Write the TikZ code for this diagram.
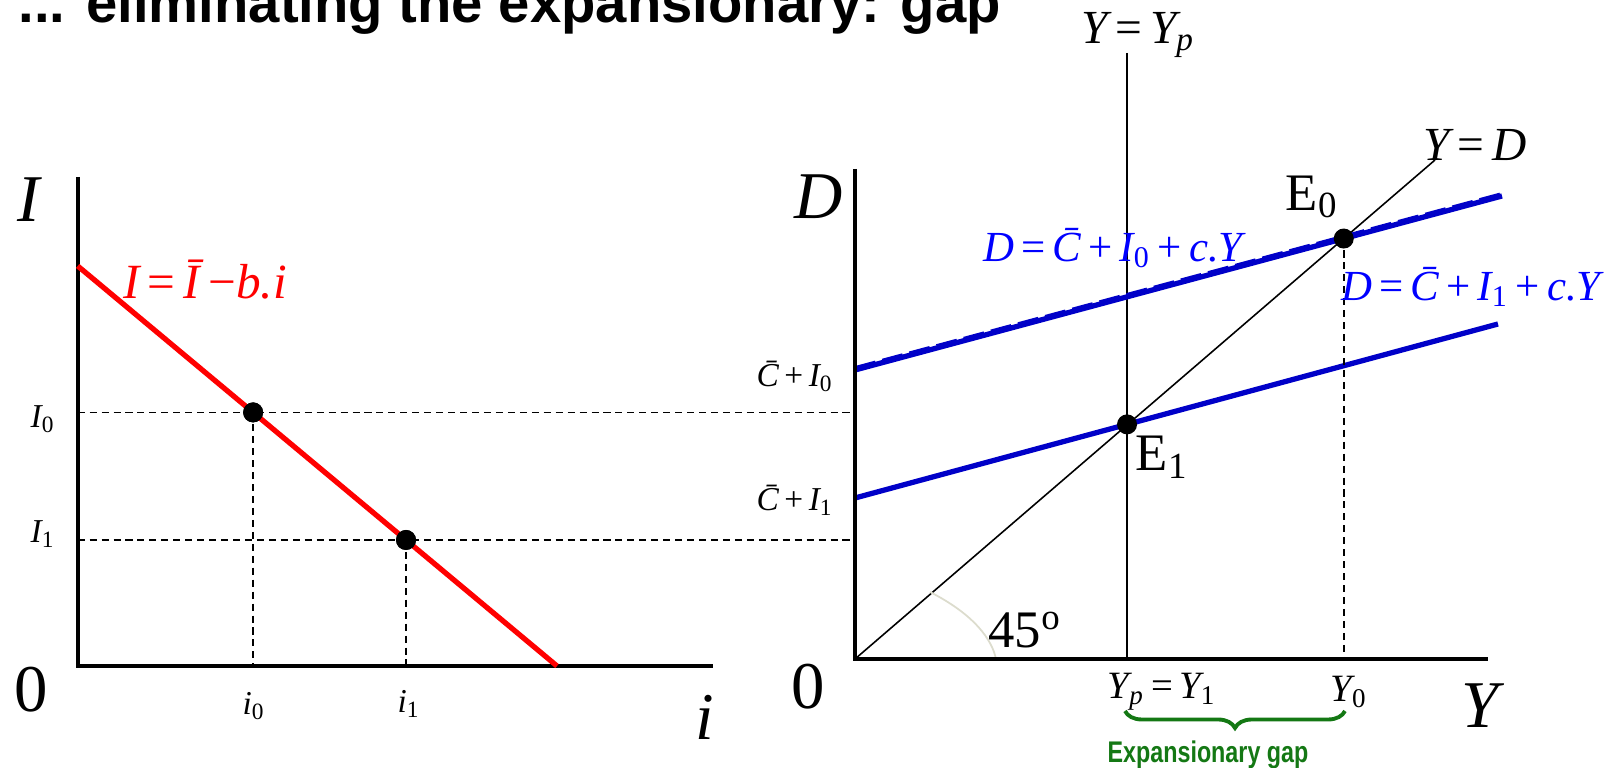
\documentclass[tikz,border=0pt]{standalone}
\usepackage{fontspec}
\setmainfont{Liberation Serif}
\newfontfamily\titlefont{Liberation Sans}
\newfontfamily\gapfont[FakeStretch=0.78]{Liberation Sans}
\usetikzlibrary{calc,decorations.pathreplacing}
\definecolor{lineblue}{RGB}{0,0,200}
\definecolor{textblue}{RGB}{0,0,255}
\definecolor{gapgreen}{RGB}{20,120,20}
\definecolor{arcgray}{RGB}{220,220,205}

\begin{document}
\begin{tikzpicture}[
    axis/.style={line width=1.15pt},
    guide/.style={dash pattern=on 2pt off 1.4pt, line width=0.45pt},
    dot/.style={circle, fill=black, inner sep=0pt, minimum size=0.2cm},
    biglbl/.style={font=\fontsize{19}{19}\selectfont},
    smalllbl/.style={font=\fontsize{9.5}{9.5}\selectfont},
    eqlbl/.style={font=\fontsize{12.2}{12.2}\selectfont},
  ]
  \useasboundingbox (0,0) rectangle (16.04,7.68);
  \clip (0,0) rectangle (16.04,7.68);

  % title, cut at the top
  \node[anchor=base west, inner sep=0pt, font=\titlefont\bfseries\fontsize{16}{16}\selectfont] (title) at (0.18,7.45) {... eliminating the expansionary: gap};

  % ---- investment panel ----
  \coordinate (O1) at (0.777,1.02);
  \coordinate (Itop) at (0.777,5.91);
  \coordinate (iend) at (7.13,1.02);
  \coordinate (redA) at (0.777,5.02);
  \coordinate (redB) at (5.57,1.02);
  \coordinate (O2) at (8.55,1.09);

  \draw[axis] (Itop) -- (O1) -- (iend);
  \draw[red, line width=1.5pt] (redA) -- (redB);

  \node[dot] (pI0) at ($(redA)!0.366!(redB)$) {};
  \node[dot] (pI1) at ($(redA)!0.685!(redB)$) {};
  \draw[guide] (pI0.center -| O1) -- (pI0.center -| O2);
  \draw[guide] (pI1.center -| O1) -- (pI1.center -| O2);
  \draw[guide] (pI0.center) -- (pI0.center |- O1);
  \draw[guide] (pI1.center) -- (pI1.center |- O1);
  \node[dot] at (pI0) {};
  \node[dot] at (pI1) {};

  \node[biglbl] (lblI) at (0.29,5.68) {\itshape I};
  \node[biglbl] (zero1) at (0.31,0.78) {0};
  \node[biglbl] (lbli) at (7.05,0.51) {\itshape i};
  \node[smalllbl] (lblI0) at (0.43,3.49) {\itshape I\textsubscript{\upshape 0}};
  \node[smalllbl] (lblI1) at (0.43,2.34) {\itshape I\textsubscript{\upshape 1}};
  \node[smalllbl] (lbli0) at (2.54,0.62) {\itshape i\textsubscript{\upshape 0}};
  \node[smalllbl] (lbli1) at (4.09,0.64) {\itshape i\textsubscript{\upshape 1}};
  \node[font=\fontsize{14}{14}\selectfont, text=red] (eqI) at (2.05,4.88) {\itshape I\,\upshape=\,\itshape Ī\,\upshape−\itshape b.i};

  % ---- demand panel ----
  \coordinate (Dtop) at (8.55,5.99);
  \coordinate (Yend) at (14.88,1.09);
  \coordinate (diag) at (14.35,6.08);
  \coordinate (upA) at (8.55,3.98);
  \coordinate (upB) at (15.02,5.72);
  \coordinate (loA) at (8.55,2.70);
  \coordinate (loB) at (14.98,4.44);
  \coordinate (YpTop) at (11.27,7.15);
  \coordinate (YpBot) at (11.27,1.09);

  \draw[line width=0.6pt] (YpTop) -- (YpBot);
  \draw[line width=0.45pt] (O2) -- (diag);
  \draw[arcgray, line width=0.5pt] (9.30,1.76) .. controls (9.75,1.53) and (9.92,1.28) .. (9.96,1.09);
  \draw[lineblue, line width=1.5pt] (upA) -- (upB);
  \draw[lineblue, dash pattern=on 6pt off 2pt, line width=0.8pt] ($(upA)+(0,0.025)$) -- ($(upB)+(0,0.025)$);
  \draw[lineblue, line width=1.5pt] (loA) -- (loB);
  \draw[axis] (Dtop) -- (O2) -- (Yend);

  \coordinate (cE0) at (intersection of O2--diag and upA--upB);
  \coordinate (cE1) at (intersection of YpTop--YpBot and loA--loB);
  \draw[guide] (cE0) -- (cE0 |- O2);
  \node[dot] (E0) at (cE0) {};
  \node[dot] (E1) at (cE1) {};

  \node[biglbl] (lblD) at (8.19,5.71) {\itshape D};
  \node[biglbl] (zero2) at (8.08,0.81) {0};
  \node[biglbl] (lblY) at (14.80,0.62) {\itshape Y};
  \node[smalllbl] (lblCI0) at (7.95,3.92) {\itshape\=C\,\upshape+\,\itshape I\textsubscript{\upshape 0}};
  \node[smalllbl] (lblCI1) at (7.95,2.68) {\itshape\=C\,\upshape+\,\itshape I\textsubscript{\upshape 1}};
  \node[eqlbl, text=textblue] (eqD0) at (11.13,5.20) {\itshape D\,\upshape=\,\itshape\=C\,\upshape+\,\itshape I\textsubscript{\upshape 0}\,\upshape+\,\itshape c.Y};
  \node[eqlbl, text=textblue] (eqD1) at (14.71,4.81) {\itshape D\,\upshape=\,\itshape\=C\,\upshape+\,\itshape I\textsubscript{\upshape 1}\,\upshape+\,\itshape c.Y};
  \node[font=\fontsize{15}{15}\selectfont] (lblE0) at (13.12,5.71) {E\textsubscript{0}};
  \node[font=\fontsize{15}{15}\selectfont] (lblE1) at (11.62,3.11) {E\textsubscript{1}};
  \node[font=\fontsize{13.5}{13.5}\selectfont] (lblYD) at (14.75,6.23) {\itshape Y\,\upshape=\,\itshape D};
  \node[font=\fontsize{13.5}{13.5}\selectfont] (lblYp) at (11.38,7.33) {\itshape Y\,\upshape=\,\itshape Y\textsubscript{p}};
  \node[font=\fontsize{15}{15}\selectfont] (lbl45) at (10.25,1.38) {45\textsuperscript{o}};
  \node[font=\fontsize{11}{11}\selectfont] (lblYp1) at (11.62,0.76) {\itshape Y\textsubscript{p}\,\upshape=\,\itshape Y\textsubscript{\upshape 1}};
  \node[font=\fontsize{11}{11}\selectfont] (lblY0) at (13.49,0.76) {\itshape Y\textsubscript{\upshape 0}};

  % gap brace
  \coordinate (gapL) at (11.25,0.57);
  \coordinate (gapR) at (13.45,0.57);
  \draw[gapgreen, line width=1.1pt, decorate, decoration={brace, mirror, amplitude=0.17cm}] (gapL) -- (gapR);
  \node[text=gapgreen, font=\gapfont\bfseries\fontsize{8.5}{8.5}\selectfont] (gaptxt) at (12.08,0.13) {Expansionary gap};
\end{tikzpicture}
\end{document}
